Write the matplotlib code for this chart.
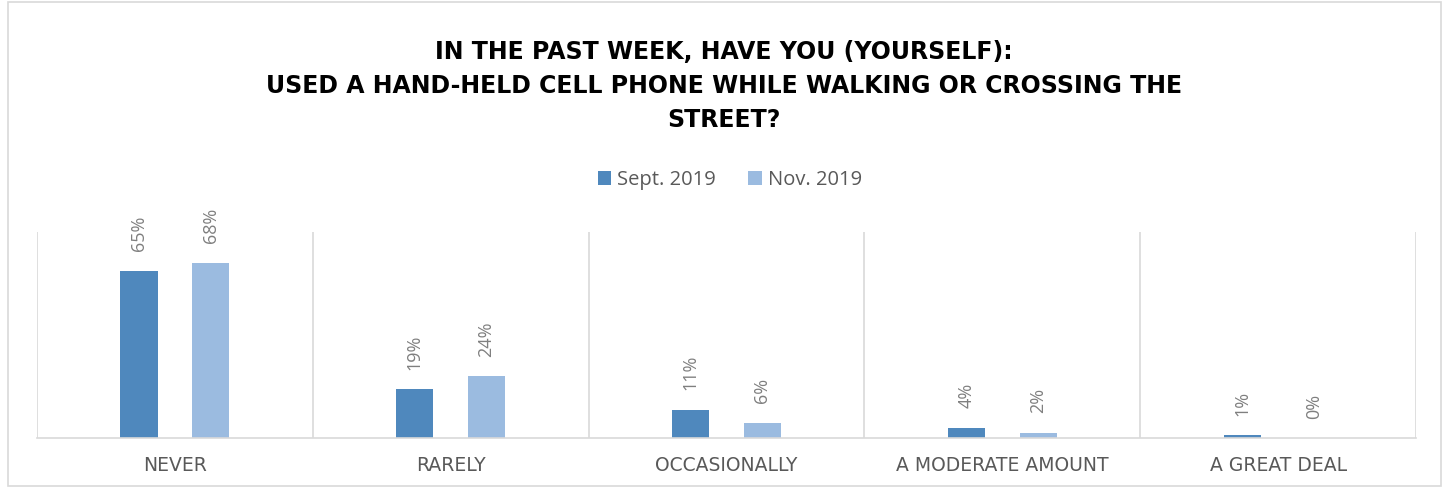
import matplotlib.pyplot as plt
from matplotlib.patches import Rectangle
import numpy as np

# data
categories = ["NEVER", "RARELY", "OCCASIONALLY", "A MODERATE AMOUNT", "A GREAT DEAL"]
series_names = ["Sept. 2019", "Nov. 2019"]
sept = [65, 19, 11, 4, 1]
nov = [68, 24, 6, 2, 0]
colors = ["#4F88BD", "#9BBBE0"]

title = "IN THE PAST WEEK, HAVE YOU (YOURSELF):\nUSED A HAND-HELD CELL PHONE WHILE WALKING OR CROSSING THE\nSTREET?"

plt.rcParams['font.family'] = ['Open Sans', 'DejaVu Sans']

fig = plt.figure(figsize=(14.48, 4.87), dpi=100)
# outer chart border
fig.patches.append(Rectangle((8/1448, 0.002), 1433/1448, 0.994, transform=fig.transFigure,
                             fill=False, edgecolor="#D9D9D9", linewidth=1.2))

ax = fig.add_axes([37/1448, 1 - 438/487, (1416-37)/1448, (438-232)/487])

x = np.arange(len(categories))
w = 0.135
off = 0.13
b1 = ax.bar(x - off, sept, w, color=colors[0], label=series_names[0])
b2 = ax.bar(x + off, nov, w, color=colors[1], label=series_names[1])

for bars, vals in [(b1, sept), (b2, nov)]:
    for r, v in zip(bars, vals):
        ax.annotate(f"{v}%", (r.get_x() + r.get_width()/2, r.get_height()),
                    xytext=(0, 14), textcoords="offset points", rotation=90,
                    ha="center", va="bottom", fontsize=13, color="#7F7F7F")

ax.set_xlim(-0.5, len(categories) - 0.5)
ax.set_ylim(0, 80)
ax.set_yticks([])
ax.set_xticks(x)
ax.set_xticklabels(categories, fontsize=13.5, color="#595959", family="DejaVu Sans")
ax.tick_params(axis="x", length=0, pad=13)
for b in np.arange(-0.5, len(categories), 1.0):
    ax.axvline(b, color="#D9D9D9", linewidth=1.2, zorder=0)
for s in ["top", "right", "left"]:
    ax.spines[s].set_visible(False)
ax.spines["bottom"].set_color("#D9D9D9")
ax.spines["bottom"].set_linewidth(1.2)

fig.text(0.5, 1 - 86/487, title, ha="center", va="center", fontsize=17, fontweight="bold",
         color="#000000", linespacing=1.55, family="DejaVu Sans")

fig.legend(handles=[b1, b2], labels=series_names, loc="center", bbox_to_anchor=(730/1448, 1 - 180/487),
           ncol=2, frameon=False, fontsize=14.5, handlelength=0.65, handleheight=0.65,
           handletextpad=0.3, columnspacing=1.6, labelcolor="#595959")

fig.savefig("out.png", dpi=100)
